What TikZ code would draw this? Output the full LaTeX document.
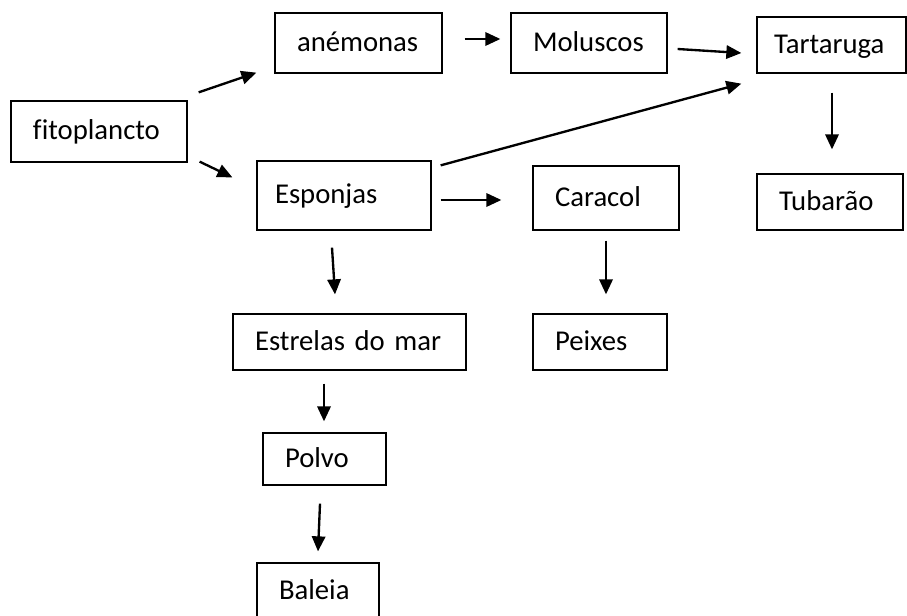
\documentclass[tikz,border=0pt]{standalone}
\usepackage{fontspec}
\setmainfont{Carlito}[Ligatures=CommonOff]
\usetikzlibrary{arrows.meta}

\begin{document}
\begin{tikzpicture}[x=0.03cm,y=-0.03cm,>={Triangle[length=0.45cm,width=0.4cm]},
  box/.style={draw,line width=1.1pt,align=left,inner xsep=0.66cm,inner ysep=0pt,
              text height=19.6pt,text depth=5.1pt,font=\fontsize{24.5}{29}\selectfont},
  link/.style={->,line width=2pt}]

\clip (0,0) rectangle (907,615);

\node[box,text width=3.96cm,minimum height=1.83cm] (fito)   at (99,131.5)  {fitoplancto};
\node[box,text width=3.69cm,minimum height=1.80cm] (anem)   at (358.5,43)  {anémonas};
\node[box,text width=3.36cm,minimum height=1.80cm] (molus)  at (589,43)    {Moluscos};
\node[box,text width=3.45cm,minimum height=1.68cm,inner xsep=0.51cm] (tart) at (831.5,45) {Tartaruga};
\node[box,text width=4.14cm,minimum height=2.07cm,inner xsep=0.54cm] (espon) at (344,195.5) {Esponjas};
\node[box,text width=3.06cm,minimum height=1.92cm] (carac)  at (606,198)   {Caracol};
\node[box,text width=3.06cm,minimum height=1.68cm] (tubar)  at (830,202)   {Tubarão};
\node[box,text width=5.67cm,minimum height=1.68cm] (estrel) at (349.5,342) {Estrelas do mar};
\node[box,text width=2.70cm,minimum height=1.68cm] (peix)   at (600,342)   {Peixes};
\node[box,text width=2.37cm,minimum height=1.56cm] (polvo)  at (324.5,459) {Polvo};
\node[box,text width=2.34cm,minimum height=1.68cm] (baleia) at (318,591)   {Baleia};

% setas da cadeia alimentar
\path ([shift={(11,-8)}]fito.north east)  edge[link] ([shift={(-18,-1)}]anem.south west)
      ([shift={(12,-1)}]fito.south east)  edge[link] ([shift={(-24,17)}]espon.north west)
      ([shift={(22,-4)}]anem.east)        edge[link] ([shift={(-10,-4)}]molus.west)
      ([shift={(10,6)}]molus.east)        edge[link] ([shift={(-15,8)}]tart.west)
      ([shift={(9,5)}]espon.north east)   edge[link] ([shift={(-15,10)}]tart.south west)
      ([shift={(9,4.5)}]espon.east)       edge[link] ([shift={(-31,2)}]carac.west)
      ([shift={(0.5,19)}]tart.south)      edge[link] ([shift={(2,-24)}]tubar.north);

\path ([shift={(-12,17)}]espon.south)     edge[link] ([shift={(-14.5,-19)}]estrel.north)
      ([shift={(0,10)}]carac.south)       edge[link] ([shift={(6,-19)}]peix.north)
      ([shift={(-25.5,13)}]estrel.south)  edge[link] ([shift={(-0.5,-11)}]polvo.north)
      ([shift={(-4.5,18)}]polvo.south)    edge[link] ([shift={(0,-11)}]baleia.north);

\end{tikzpicture}
\end{document}
